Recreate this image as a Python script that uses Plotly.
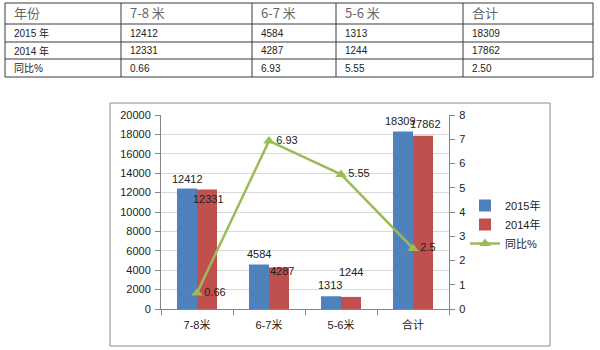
import plotly.graph_objects as go

# ---------------- data ----------------
categories = ["7-8米", "6-7米", "5-6米", "合计"]
table_cols = ["7-8 米", "6-7 米", "5-6 米", "合计"]
series_2015 = [12412, 4584, 1313, 18309]
series_2014 = [12331, 4287, 1244, 17862]
yoy_pct = [0.66, 6.93, 5.55, 2.50]
yoy_text = ["0.66", "6.93", "5.55", "2.50"]
row_names = ["2015 年", "2014 年", "同比%"]
name_2015 = "2015年"
name_2014 = "2014年"
name_yoy = "同比%"
header_first = "年份"

# ---------------- style ----------------
W, H = 600, 350
BLUE, RED, GREEN = "#4F81BD", "#C0504D", "#9BBB59"
GRID = "#d9d9d9"
AXIS = "#868686"
FONT = "Liberation Sans, Noto Sans CJK SC, sans-serif"
CJK = "Noto Sans CJK SC, Liberation Sans, sans-serif"

plot_l, plot_r, plot_t, plot_b = 161, 449, 115, 309


def px(x):
    return x / W


def py(y):
    return 1 - y / H


fig = go.Figure()

fig.add_trace(go.Bar(x=categories, y=series_2015, name=name_2015,
                     marker=dict(color=BLUE, line=dict(width=0))))
fig.add_trace(go.Bar(x=categories, y=series_2014, name=name_2014,
                     marker=dict(color=RED, line=dict(width=0))))
fig.add_trace(go.Scatter(x=categories, y=yoy_pct, name=name_yoy, yaxis="y2",
                         mode="lines+markers+text",
                         text=[f"{v:g}" for v in yoy_pct],
                         textposition="middle right",
                         textfont=dict(family=FONT, size=11, color="#222"),
                         line=dict(color=GREEN, width=2.5),
                         marker=dict(symbol="triangle-up", size=10, color=GREEN),
                         cliponaxis=False))

annotations = []
# data labels for bars (offsets are styling)
shift_2015 = [(-10, 10), (-10, 11), (-11, 11), (-13, 10)]
shift_2014 = [(11, -10), (13, -4), (10, 25), (12, 12)]
for i, c in enumerate(categories):
    annotations.append(dict(x=c, y=series_2015[i], xref="x", yref="y",
                            text=str(series_2015[i]), showarrow=False,
                            xshift=shift_2015[i][0], yshift=shift_2015[i][1],
                            font=dict(family=FONT, size=11, color="#222")))
    annotations.append(dict(x=c, y=series_2014[i], xref="x", yref="y",
                            text=str(series_2014[i]), showarrow=False,
                            xshift=shift_2014[i][0], yshift=shift_2014[i][1],
                            font=dict(family=FONT, size=11, color="#222")))

# ---------------- table ----------------
col_x = [5, 121, 252, 336, 463, 593]
row_y = [3, 24, 42, 59, 77]
shapes = []
TL = "#3a3a3a"
for x in col_x:
    shapes.append(dict(type="line", xref="paper", yref="paper",
                       x0=px(x), x1=px(x), y0=py(row_y[0]), y1=py(row_y[-1]),
                       line=dict(color=TL, width=1)))
for y in row_y:
    shapes.append(dict(type="line", xref="paper", yref="paper",
                       x0=px(col_x[0]), x1=px(col_x[-1]), y0=py(y), y1=py(y),
                       line=dict(color=TL, width=1)))

header = [header_first] + table_cols
for j, t in enumerate(header):
    annotations.append(dict(x=px(col_x[j] + 7), y=py((row_y[0] + row_y[1]) / 2 - 1),
                            xref="paper", yref="paper", xanchor="left", yanchor="middle",
                            text=t, showarrow=False,
                            font=dict(family=CJK, size=13, color="#666")))
rows = [
    [str(v) for v in series_2015],
    [str(v) for v in series_2014],
    yoy_text,
]
for r, name in enumerate(row_names):
    yc = (row_y[r + 1] + row_y[r + 2]) / 2
    cells = [name] + rows[r]
    for j, t in enumerate(cells):
        annotations.append(dict(x=px(col_x[j] + 7), y=py(yc),
                                xref="paper", yref="paper", xanchor="left", yanchor="middle",
                                text=t, showarrow=False,
                                font=dict(family=FONT, size=10, color="#222")))

# chart border
shapes.append(dict(type="rect", xref="paper", yref="paper",
                   x0=px(110), x1=px(550), y0=py(346), y1=py(103),
                   line=dict(color="#8c8c8c", width=1), layer="below"))

fig.update_layout(
    width=W, height=H,
    margin=dict(l=0, r=0, t=0, b=0),
    paper_bgcolor="white", plot_bgcolor="white",
    font=dict(family=FONT, size=11, color="#222"),
    barmode="group", bargap=0.444, bargroupgap=0,
    showlegend=True,
    legend=dict(x=px(465), y=py(191), xanchor="left", yanchor="top",
                font=dict(family=FONT, size=11, color="#222"),
                bgcolor="rgba(0,0,0,0)", tracegroupgap=0),
    xaxis=dict(domain=[px(plot_l), px(plot_r)], showline=True, linecolor=AXIS,
               ticks="outside", tickson="boundaries", ticklen=5, tickcolor=AXIS,
               ticklabelstandoff=6, automargin=False,
               showgrid=False, tickfont=dict(family=FONT, size=11, color="#222")),
    yaxis=dict(domain=[py(plot_b), py(plot_t)], range=[0, 20000], dtick=2000,
               tickformat="d", automargin=False, ticklabelstandoff=2,
               showline=True, linecolor=AXIS, ticks="outside", ticklen=5,
               tickcolor=AXIS, gridcolor=GRID, zeroline=False,
               tickfont=dict(family=FONT, size=11, color="#222")),
    yaxis2=dict(overlaying="y", side="right", range=[0, 8], dtick=1,
                automargin=False, ticklabelstandoff=2,
                showline=True, linecolor=AXIS, ticks="outside", ticklen=5,
                tickcolor=AXIS, showgrid=False, zeroline=False,
                tickfont=dict(family=FONT, size=11, color="#222")),
    shapes=shapes,
    annotations=annotations,
)

fig.write_html("out.html")
